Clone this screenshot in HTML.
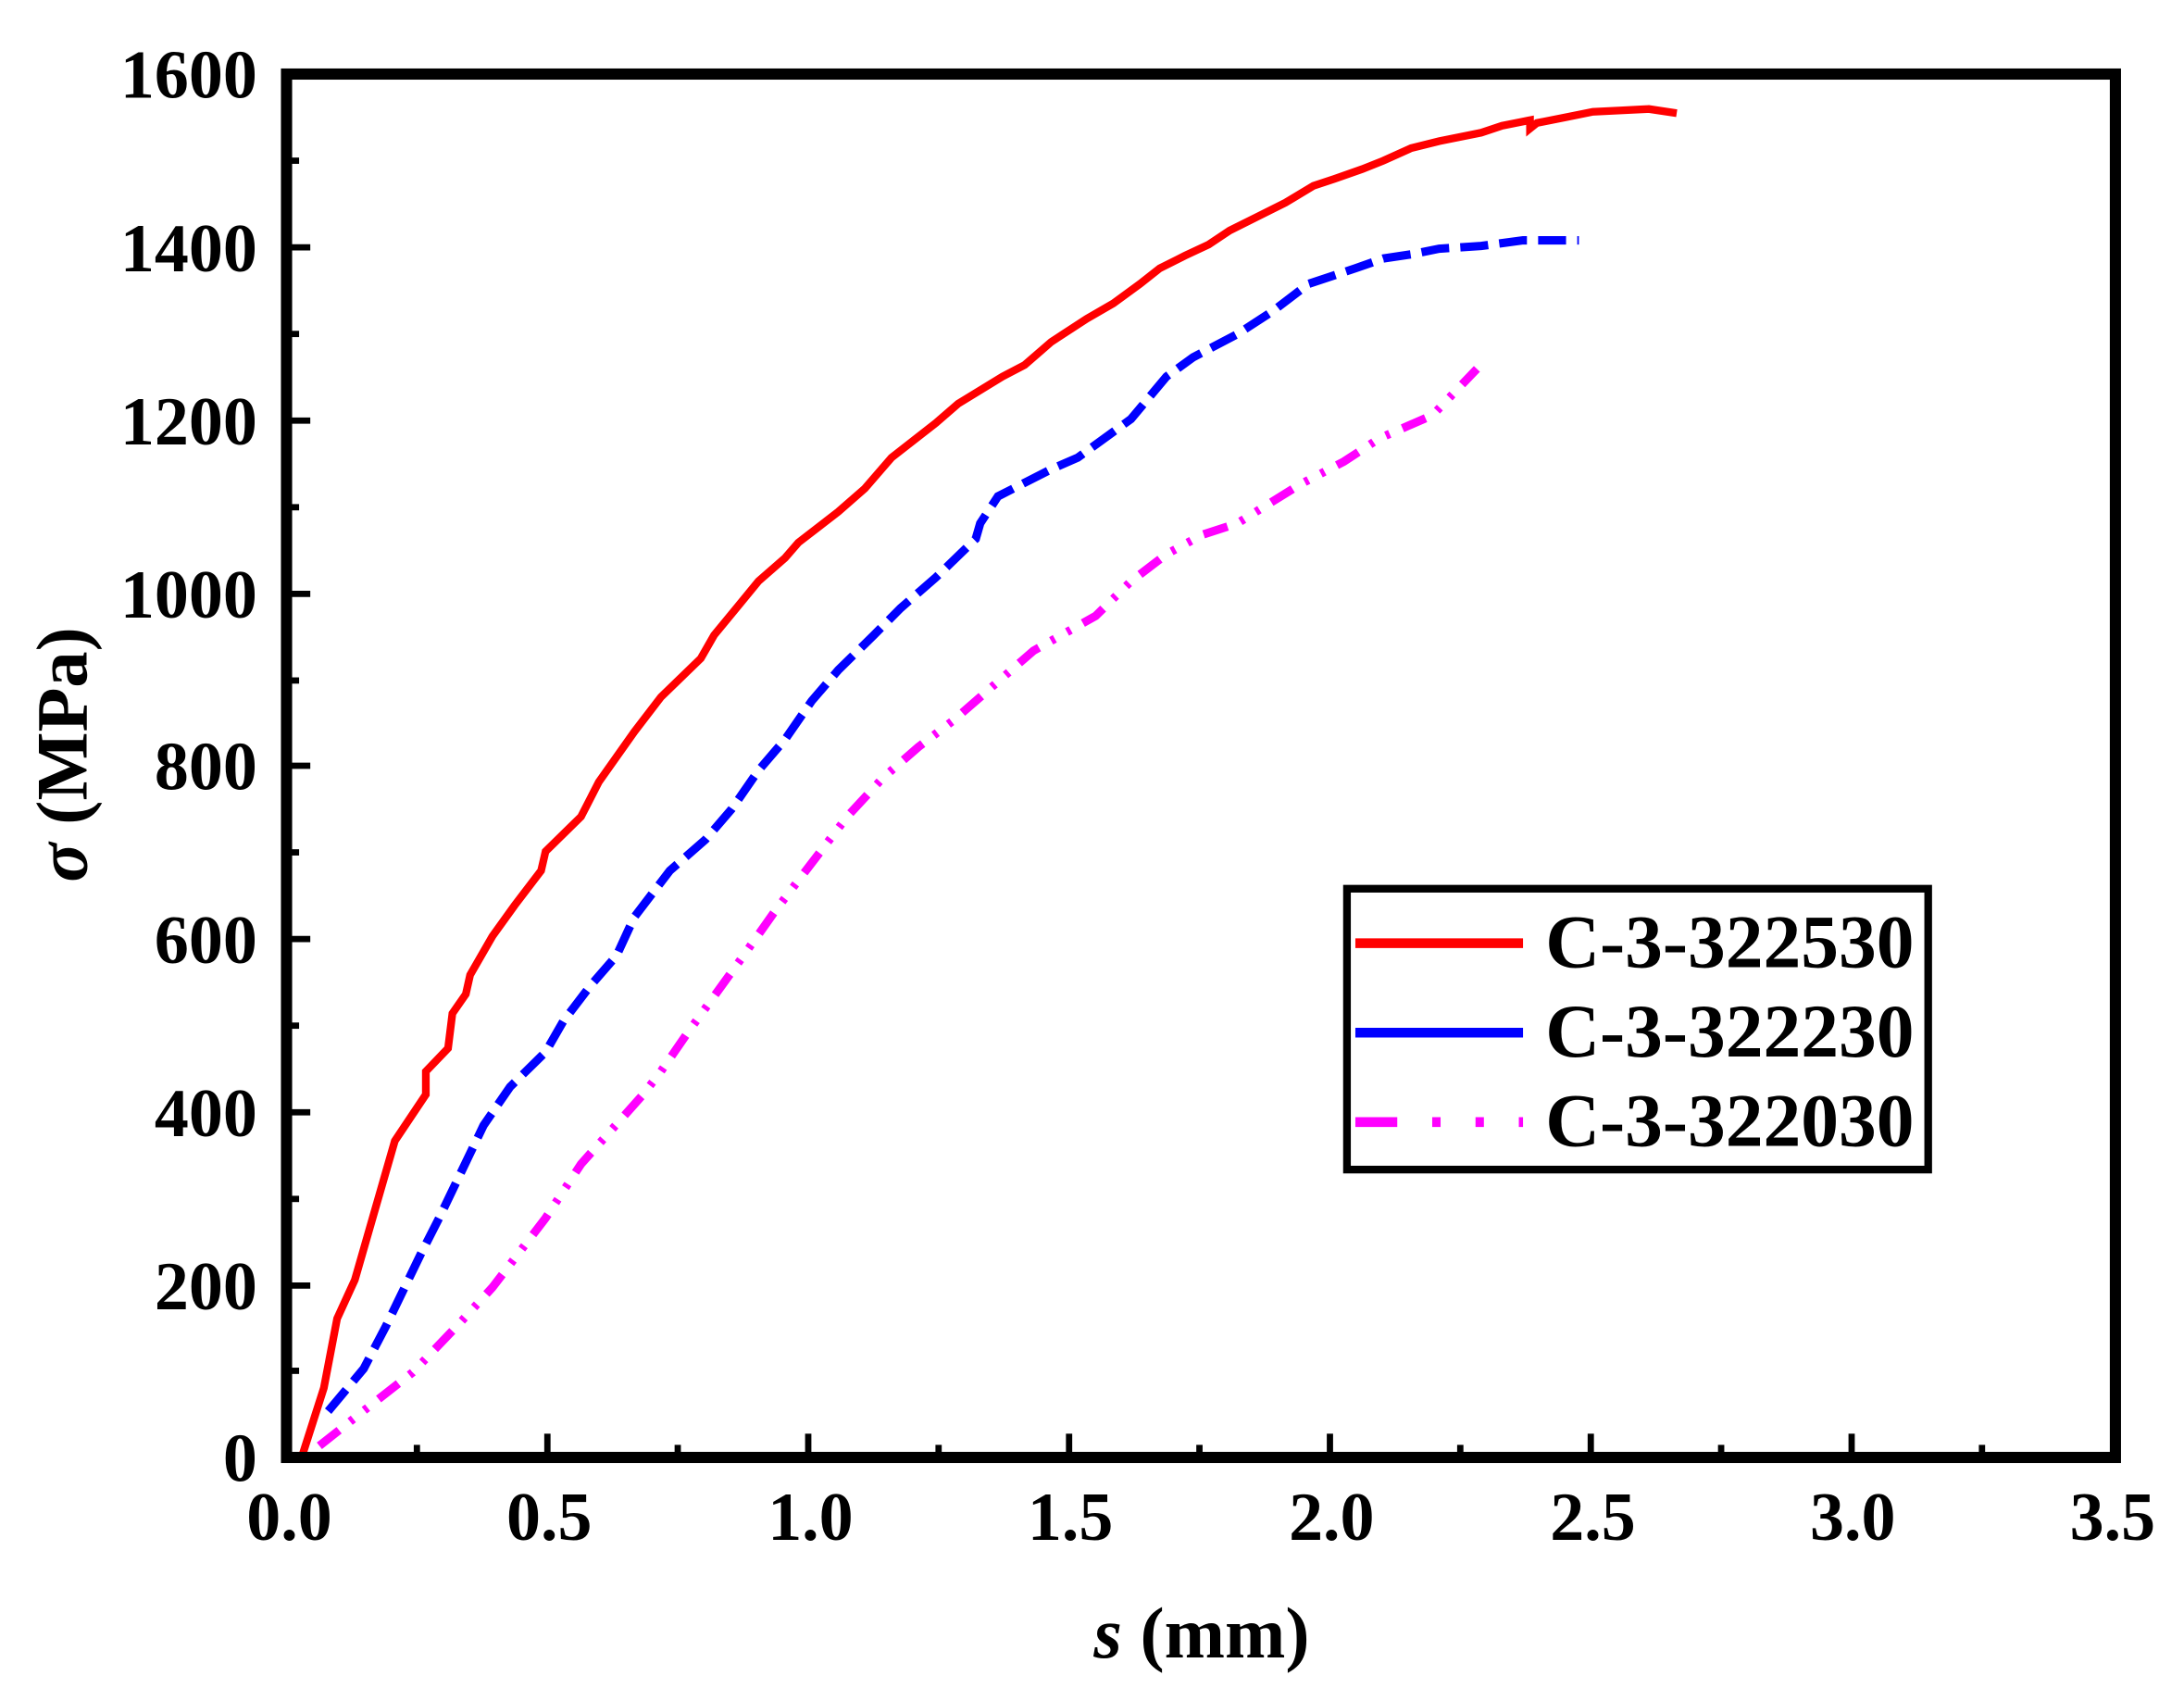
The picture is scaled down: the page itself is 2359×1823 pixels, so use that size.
<!DOCTYPE html>
<html><head><meta charset="utf-8"><style>
html,body{margin:0;padding:0;background:#fff}
svg{display:block}
text{font-family:"Liberation Serif",serif;font-weight:bold;fill:#000}
</style></head><body>
<svg width="2359" height="1823" viewBox="0 0 1563 1208" xmlns="http://www.w3.org/2000/svg">
<rect x="0" y="0" width="1563" height="1208" fill="#fff"/>
<polyline fill="none" stroke="#ff00ff" stroke-width="6" stroke-dasharray="18 10 3 10 3 10" points="228.5,1034.7 263.4,1007.1 295.2,982.2 326.9,949.1 352.3,921.4 390.4,871.7 415.8,833 460.2,783.3 472.9,766.8 492,739.2 530.1,686.6 555.5,650.8 580.9,617.6 606.3,584.4 631.7,556.8 657.1,534.7 682.5,515.4 714.2,487.8 739.6,465.7 784.1,440.8 809.4,416 834.8,396.6 860.2,382.8 885.6,374.5 930,346.9 961.8,330.3 987.2,313.7 1025.3,297.1 1057,264"/>
<polyline fill="none" stroke="#0000ff" stroke-width="6" stroke-dasharray="20 8" points="234.8,1009.9 260.2,979.5 276.1,949.1 301.5,896.6 314.2,871.7 346,805.4 365,777.8 390.4,752.9 403.1,730.8 422.1,705.9 441.2,683.9 453.9,656.3 479.3,623.1 504.7,601 523.7,578.9 542.8,551.3 561.8,529.2 580.9,501.6 599.9,479.5 625.3,454.6 644.4,435.3 669.8,413.2 698.3,385.6 701.5,374.5 714.2,355.2 752.3,335.8 771.3,327.5 809.4,299.9 834.8,269.5 853.9,255.7 885.6,239.1 911,222.6 936.4,203.2 955,197 970,192 990,185 1010,182 1030,178 1060,176 1090,172 1130,172"/>
<polyline fill="none" stroke="#ff0000" stroke-width="5.5" points="215.8,1043 231.7,993.3 241.2,943.6 253.9,915.9 266.6,871.7 282.5,816.5 304.7,783.3 304.7,766.8 320.6,750.2 323.7,725.3 333.3,711.5 336.4,697.7 352.3,670.1 368.2,648 387.2,623.1 390.4,609.3 415.8,584.4 428.5,559.6 453.9,523.7 473,498.8 501.5,471.2 511,454.6 526.9,435.3 542.8,415.9 561.8,399.3 571.3,388.3 599.9,366.2 618.9,349.6 638,327.5 669.8,302.7 685.7,288.9 717.4,269.5 733.3,261.2 752.3,244.7 777.7,228.1 796.8,217.1 815.8,203.2 830,192 848,183 865,175 880,165 900,155 920,145 940,133 955,128 975,121 990,115 1010,106 1030,101 1060,95 1075,90 1095,86 1095,92 1100,88 1120,84 1140,80 1160,79 1180,78 1200,81"/>
<rect x="205" y="53" width="1309" height="990" fill="none" stroke="#000" stroke-width="8"/>
<g stroke="#000" stroke-width="4.5">
<line x1="205" y1="177" x2="222" y2="177"/><line x1="205" y1="301" x2="222" y2="301"/><line x1="205" y1="425" x2="222" y2="425"/><line x1="205" y1="548" x2="222" y2="548"/><line x1="205" y1="672" x2="222" y2="672"/><line x1="205" y1="796" x2="222" y2="796"/><line x1="205" y1="920" x2="222" y2="920"/>
<line x1="205" y1="115" x2="214" y2="115"/><line x1="205" y1="239" x2="214" y2="239"/><line x1="205" y1="363" x2="214" y2="363"/><line x1="205" y1="487" x2="214" y2="487"/><line x1="205" y1="610" x2="214" y2="610"/><line x1="205" y1="734" x2="214" y2="734"/><line x1="205" y1="858" x2="214" y2="858"/><line x1="205" y1="981" x2="214" y2="981"/>
<line x1="391.7" y1="1043" x2="391.7" y2="1026"/><line x1="578.4" y1="1043" x2="578.4" y2="1026"/><line x1="765.1" y1="1043" x2="765.1" y2="1026"/><line x1="951.8" y1="1043" x2="951.8" y2="1026"/><line x1="1138.5" y1="1043" x2="1138.5" y2="1026"/><line x1="1325.2" y1="1043" x2="1325.2" y2="1026"/>
<line x1="298.3" y1="1043" x2="298.3" y2="1034"/><line x1="485" y1="1043" x2="485" y2="1034"/><line x1="671.7" y1="1043" x2="671.7" y2="1034"/><line x1="858.4" y1="1043" x2="858.4" y2="1034"/><line x1="1045.1" y1="1043" x2="1045.1" y2="1034"/><line x1="1231.8" y1="1043" x2="1231.8" y2="1034"/><line x1="1418.5" y1="1043" x2="1418.5" y2="1034"/>
</g>
<g font-size="49" text-anchor="end">
<text x="184" y="70">1600</text><text x="184" y="194">1400</text><text x="184" y="318">1200</text><text x="184" y="442">1000</text><text x="184" y="565">800</text><text x="184" y="689">600</text><text x="184" y="813">400</text><text x="184" y="937">200</text><text x="184" y="1060">0</text>
</g>
<g font-size="49" text-anchor="middle">
<text x="207" y="1102">0.0</text><text x="393" y="1102">0.5</text><text x="580" y="1102">1.0</text><text x="766" y="1102">1.5</text><text x="953" y="1102">2.0</text><text x="1140" y="1102">2.5</text><text x="1326" y="1102">3.0</text><text x="1512" y="1102">3.5</text>
</g>
<text x="860" y="1186" font-size="52" text-anchor="middle"><tspan font-style="italic">s</tspan> (mm)</text>
<text transform="translate(62,540) rotate(-90)" font-size="52" text-anchor="middle"><tspan font-style="italic">σ</tspan> (MPa)</text>
<rect x="964" y="636" width="416" height="201" fill="#fff" stroke="#000" stroke-width="5.5"/>
<line x1="970" y1="675" x2="1090" y2="675" stroke="#ff0000" stroke-width="7"/>
<line x1="970" y1="739" x2="1090" y2="739" stroke="#0000ff" stroke-width="7"/>
<line x1="970" y1="803" x2="1090" y2="803" stroke="#ff00ff" stroke-width="7" stroke-dasharray="30 25 6 25 6 25 4"/>
<g font-size="54">
<text x="1106" y="692">C-3-322530</text><text x="1106" y="756">C-3-322230</text><text x="1106" y="820">C-3-322030</text>
</g>
</svg>
</body></html>
